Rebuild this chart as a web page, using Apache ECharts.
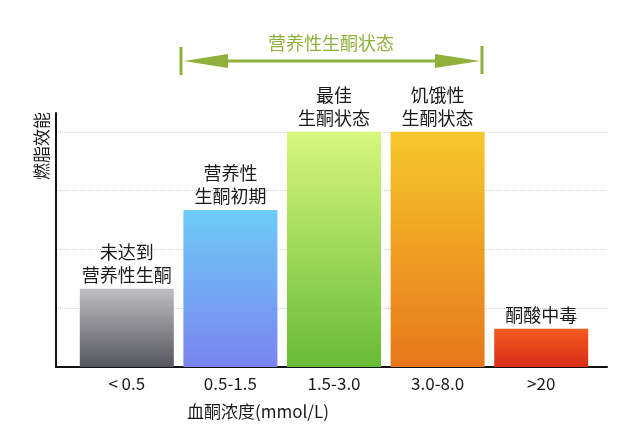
<!DOCTYPE html>
<html>
<head>
<meta charset="utf-8">
<script src="https://cdn.jsdelivr.net/npm/echarts@6/dist/echarts.min.js"></script>
<style>html,body{margin:0;padding:0;background:#fff;}#c{width:640px;height:443px;}</style>
</head>
<body>
<div id="c"></div>
<script>
const categories = ['< 0.5', '0.5-1.5', '1.5-3.0', '3.0-8.0', '>20'];
const values = [1.33, 2.67, 4.0, 4.0, 0.65];
const barLabels = ['未达到\n营养性生酮', '营养性\n生酮初期', '最佳\n生酮状态', '饥饿性\n生酮状态', '酮酸中毒'];
const yTicks = [0, 1, 2, 3, 4];
const yMax = 4.32;
const xTitle = '血酮浓度(mmol/L)';
const yTitle = '燃脂效能';
const bracketTitle = '营养性生酮状态';

const FONT = '"Noto Sans CJK SC", "Noto Sans", sans-serif';
const gradients = [
  ['#bfbfc2', '#55555d'],
  ['#6dcbf6', '#7a84f0'],
  ['#d6f77c', '#68bb38'],
  ['#f6c82c', '#e7771a'],
  ['#f25c20', '#d92d18']
];
const green = '#8fb03a';

const chart = echarts.init(document.getElementById('c'), null, {renderer: 'canvas'});
chart.setOption({
  backgroundColor: '#ffffff',
  animation: false,
  grid: [
    {left: 56, right: 33, top: 113, bottom: 76},
    {left: 75, right: 47, top: 113, bottom: 76}
  ],
  xAxis: [
    {gridIndex: 0, type: 'category', data: categories, boundaryGap: true,
     axisLine: {show: true, lineStyle: {color: '#111', width: 2}},
     axisTick: {show: false}, axisLabel: {show: false}, splitLine: {show: false}},
    {gridIndex: 1, type: 'category', data: categories,
     axisLine: {show: false}, axisTick: {show: false},
     axisLabel: {color: '#1a1a1a', fontSize: 17, fontFamily: FONT, margin: 8}}
  ],
  yAxis: [
    {gridIndex: 0, type: 'value', min: yTicks[0], max: yMax, interval: 1,
     axisLine: {show: true, lineStyle: {color: '#111', width: 2}},
     axisTick: {show: false}, axisLabel: {show: false},
     splitLine: {show: true, showMinLine: false, showMaxLine: false,
       lineStyle: {color: ['#d0d0d0','#d0d0d0','#d0d0d0','#d0d0d0','#d0d0d0','rgba(0,0,0,0)'], type: 'dotted', width: 1}}},
    {gridIndex: 1, type: 'value', min: yTicks[0], max: yMax, show: false, splitLine: {show: false}}
  ],
  series: [{
    type: 'bar',
    xAxisIndex: 1, yAxisIndex: 1,
    barWidth: 94,
    data: values.map((v, i) => ({
      value: v,
      itemStyle: {color: new echarts.graphic.LinearGradient(0, 0, 0, 1, [
        {offset: 0, color: gradients[i][0]}, {offset: 1, color: gradients[i][1]}])},
      label: {formatter: barLabels[i]}
    })),
    label: {show: true, position: 'top', distance: 2, color: '#1a1a1a',
      fontSize: 18, lineHeight: 23, fontFamily: FONT, align: 'center'}
  }],
  graphic: [
    {type: 'text', left: 187, top: 403,
     style: {text: xTitle, fill: '#1a1a1a', font: '17px ' + FONT}},
    {type: 'text', x: 42, y: 146, rotation: Math.PI / 2,
     style: {text: yTitle, fill: '#1a1a1a', font: '17px ' + FONT, align: 'center', verticalAlign: 'middle'}},
    {type: 'text', x: 331, y: 43,
     style: {text: bracketTitle, fill: green, font: '18px ' + FONT, align: 'center', verticalAlign: 'middle'}},
    {type: 'line', shape: {x1: 181, y1: 47, x2: 181, y2: 75}, style: {stroke: green, lineWidth: 3}},
    {type: 'line', shape: {x1: 482, y1: 46, x2: 482, y2: 74}, style: {stroke: green, lineWidth: 3}},
    {type: 'line', shape: {x1: 220, y1: 61, x2: 440, y2: 61}, style: {stroke: green, lineWidth: 3}},
    {type: 'polygon', shape: {points: [[184, 61], [228, 54], [228, 68]]}, style: {fill: green}},
    {type: 'polygon', shape: {points: [[480, 61], [435, 54], [435, 68]]}, style: {fill: green}}
  ]
});
</script>
</body>
</html>
